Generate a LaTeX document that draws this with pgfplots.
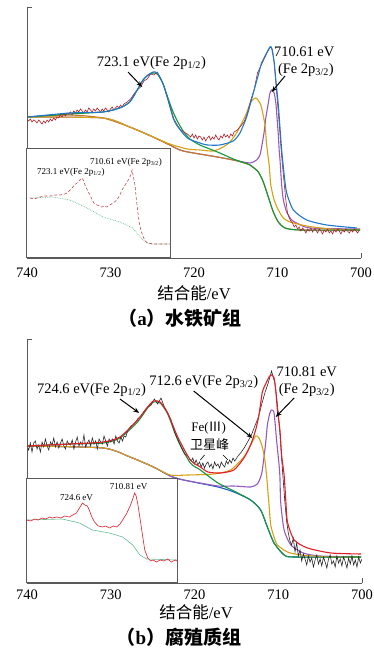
\documentclass[border=0pt]{standalone}
\usepackage{fontspec}
\setmainfont{Liberation Serif}
\newfontfamily\cjk{Noto Sans CJK SC}
\usepackage{pgfplots}
\pgfplotsset{compat=1.18}
\usetikzlibrary{arrows.meta}
\definecolor{cblue}{RGB}{30,120,200}
\definecolor{cbblue}{RGB}{30,90,200}
\definecolor{cred}{RGB}{180,30,40}
\definecolor{cbred}{RGB}{225,30,40}
\definecolor{cgreen}{RGB}{20,150,60}
\definecolor{cyellow}{RGB}{215,160,20}
\definecolor{cpurple}{RGB}{150,90,190}
\definecolor{cbrown}{RGB}{190,120,40}
\definecolor{cmint}{RGB}{100,190,150}
\definecolor{cblack}{RGB}{40,40,40}
\definecolor{axgray}{RGB}{90,90,90}
\pgfplotsset{
  mainax/.style={scale only axis, xmin=700, xmax=740, x dir=reverse, ymin=0,
    axis line style={draw=none}, major tick length=0pt, ytick=\empty,
    xtick={700,710,720,730,740}, /pgf/number format/assume math mode=true,
    xticklabel style={anchor=center, font=\fontsize{14.5}{15}\selectfont}},
  insetax/.style={scale only axis, xmin=700, xmax=740, x dir=reverse, ymin=0,
    ticks=none, axis line style={line width=1pt, axgray},
    axis background/.style={fill=white}},
  fit/.style={smooth, tension=0.4, line width=1.1pt, no markers},
  raw/.style={line width=0.6pt, no markers},
}
\tikzset{
  ann/.style={font=\fontsize{14.5}{15}\selectfont, inner sep=0pt},
  arr/.style={-{Stealth[length=6pt,width=4.5pt]}, line width=1pt, black},
}
\begin{document}
\begin{tikzpicture}[x=1pt,y=1pt]
\useasboundingbox (0,0) rectangle (374,650);
%%%%%%%%%%%%%%%%%%%%%%%% panel (a)
\begin{axis}[mainax, name=A, at={(27pt,392pt)}, anchor=south west, width=334pt, height=251pt, ymax=251,
  xticklabel style={yshift=-15pt}]
% 2p3/2
\addplot[fit, cpurple] coordinates {(739.9,141)(730.9,140)(727.7,131)(724.9,121)(722.9,113)(721.3,107)(717.2,101)(715.3,98)(713.3,95)(712.5,98)(712.1,103)(711.9,111)(711.6,126)(711.4,140)(711.1,155)(710.9,165)(710.7,168)(710.4,165)(710.2,155)(710.1,145)(709.9,123)(709.8,108)(709.7,98)(709.5,73)(709.3,58)(708.9,46)(708.3,38)(707.7,35)(706.1,30)(700.1,29)};
% background
\addplot[fit, cbrown] coordinates {(739.9,141)(734.9,143)(730.9,140)(727.7,131)(724.9,121)(722.9,113)(721.3,107)(717.2,101)(715.3,98)(713.3,93)(712.3,86)(711.7,76)(711.1,61)(710.5,46)(709.9,36)(709.1,30)(707.3,28)(700.1,28)};
% satellite
\addplot[fit, cyellow] coordinates {(739.9,141)(730.9,140)(727.7,131)(724.9,121)(722.9,114)(720.8,109)(719.3,108)(717.7,107)(716.5,111)(715.7,116)(714.9,125)(714.1,138)(713.7,145)(713.2,156)(712.6,160)(712.1,155)(711.9,150)(711.5,133)(711.3,113)(711.0,93)(710.8,73)(710.4,58)(709.9,48)(709.3,40)(708.5,36)(706.5,32)(703.7,29)(700.1,28)};
% 2p1/2
\addplot[fit, cgreen] coordinates {(739.9,141)(734.9,144)(730.9,146)(728.9,150)(727.7,156)(726.8,168)(726.1,178)(725.5,183)(724.9,185)(724.4,184)(723.8,176)(723.2,162)(722.6,148)(722.0,137)(721.3,127)(720.5,119)(719.3,113)(718.1,109)(716.9,105)(715.3,99)(713.9,95)(713.3,93)(712.3,86)(711.7,76)(711.1,61)(710.5,46)(709.9,36)(709.1,30)(707.3,28)(700.1,28)};
% raw data
\addplot[raw, cred] coordinates {(740.0,139)(739.8,137)(739.6,139)(739.4,136)(739.2,138)(739.0,137)(738.8,135)(738.6,138)(738.4,136)(738.2,134)(738.0,137)(737.8,135)(737.6,138)(737.4,136)(737.2,139)(737.0,137)(736.8,140)(736.6,138)(736.4,141)(736.2,140)(736.0,143)(735.8,141)(735.6,144)(735.4,142)(735.2,145)(735.0,144)(734.8,146)(734.6,143)(734.4,147)(734.2,145)(734.0,148)(733.8,146)(733.6,149)(733.4,147)(733.2,145)(733.0,148)(732.8,146)(732.6,150)(732.4,148)(732.2,146)(732.0,149)(731.8,147)(731.6,150)(731.4,148)(731.2,146)(731.0,149)(730.8,147)(730.6,150)(730.4,148)(730.2,146)(730.0,149)(729.8,151)(729.6,148)(729.4,150)(729.2,152)(729.0,150)(728.8,153)(728.6,151)(728.4,154)(728.2,155)(728.0,156)(727.6,159)(727.2,164)(726.8,168)(726.4,171)(726.0,177)(725.6,179)(725.2,184)(724.8,183)(724.4,186)(724.0,180)(723.6,172)(723.2,160)(722.8,150)(722.4,139)(722.0,133)(721.6,128)(721.2,126)(720.8,124)(720.4,121)(720.2,124)(720.0,120)(719.8,123)(719.6,119)(719.4,122)(719.2,121)(719.0,118)(718.8,121)(718.6,117)(718.4,120)(718.2,122)(718.0,118)(717.8,121)(717.6,119)(717.4,123)(717.2,120)(717.0,118)(716.8,122)(716.6,120)(716.4,124)(716.2,121)(716.0,123)(715.8,120)(715.6,124)(715.4,122)(715.2,126)(714.8,128)(714.4,132)(714.0,136)(713.6,145)(713.2,158)(712.8,168)(712.4,185)(712.0,192)(711.6,199)(711.2,206)(711.0,209)(710.8,211)(710.6,208)(710.4,195)(710.2,176)(710.0,155)(709.8,135)(709.6,112)(709.4,92)(709.2,75)(709.0,58)(708.8,45)(708.6,40)(708.4,37)(708.2,35)(708.0,31)(707.8,33)(707.6,29)(707.4,31)(707.2,27)(707.0,30)(706.8,28)(706.6,25)(706.4,29)(706.2,27)(706.0,30)(705.8,26)(705.6,29)(705.4,28)(705.2,25)(705.0,29)(704.8,27)(704.6,24)(704.4,28)(704.2,26)(704.0,29)(703.8,25)(703.6,27)(703.4,24)(703.2,28)(703.0,26)(702.8,29)(702.6,27)(702.4,24)(702.2,28)(702.0,26)(701.8,29)(701.6,27)(701.4,25)(701.2,28)(701.0,26)(700.8,29)(700.6,27)(700.4,25)(700.2,28)};
% envelope
\addplot[fit, cblue] coordinates {(739.9,141)(734.9,145)(730.9,146)(728.9,150)(727.7,156)(726.8,168)(726.1,178)(725.5,183)(724.9,186)(724.4,185)(723.7,174)(723.2,161)(722.5,140)(722.0,132)(720.8,120)(719.3,115)(718.4,113)(716.9,113)(715.3,117)(714.5,125)(713.7,141)(712.9,165)(712.3,183)(711.9,195)(711.3,205)(710.9,211)(710.7,210)(710.4,196)(710.2,178)(709.9,153)(709.7,130)(709.5,108)(709.2,83)(708.9,65)(708.1,48)(706.5,38)(704.1,33)(700.5,30)};
\node[ann] at (axis cs:725.1,195) {723.1 eV(Fe 2p\textsubscript{1/2})};
\draw[arr] (axis cs:727.9,186) -- (axis cs:726.2,171);
\node[ann] at (axis cs:706.8,206) {710.61 eV};
\node[ann] at (axis cs:706.6,188) {(Fe 2p\textsubscript{3/2})};
\draw[arr] (axis cs:709.1,182) -- (axis cs:710.7,166);
\end{axis}
\draw[line width=0.9pt, axgray] (A.north west) -- (A.south west) -- (A.south east);
\draw[line width=0.9pt, axgray] (A.north west) -- ++(5,0);
\draw[line width=0.9pt, axgray] (A.south east) -- ++(0,5);
\begin{axis}[insetax, at={(27pt,392pt)}, anchor=south west, width=144pt, height=109pt, ymax=109]
\addplot[line width=0.7pt, cmint, densely dotted] coordinates {(739.2,60)(732.8,61)(728.1,58)(723.3,50)(718.9,41)(714.2,36)(710.6,30)(708.6,21)(706.7,15)(705.0,14)(700.3,14)};
\addplot[line width=0.6pt, cred!80, densely dashed] coordinates {(739.2,60)(738.0,59)(736.4,61)(735.0,62)(733.5,62)(732.0,63)(730.8,63)(729.5,64)(728.9,65)(728.0,68)(727.5,70)(726.8,73)(726.1,75)(725.3,78)(724.7,80)(724.2,77)(723.9,73)(723.1,67)(722.5,63)(721.9,58)(721.4,55)(720.6,53)(719.9,52)(719.2,51)(718.5,52)(717.8,51)(717.0,53)(716.1,55)(715.0,58)(714.2,63)(713.6,68)(713.1,71)(712.2,76)(711.4,81)(710.8,88)(710.4,80)(710.0,73)(709.6,58)(709.2,46)(708.8,35)(708.3,27)(707.8,22)(707.2,17)(706.4,15)(705.0,14)(703.1,14)(700.3,14)};
\node[font=\fontsize{9}{9}\selectfont, inner sep=0pt] at (axis cs:712.5,96) {710.61 eV(Fe 2p\textsubscript{3/2})};
\node[font=\fontsize{9}{9}\selectfont, inner sep=0pt] at (axis cs:727.8,86) {723.1 eV(Fe 2p\textsubscript{1/2})};
\end{axis}
\node[font=\fontsize{16.5}{17}\selectfont] at (194,357) {{\cjk 结合能}/eV};
\node[font=\fontsize{19}{19}\selectfont\bfseries] at (180,332) {{\cjk （}a{\cjk ）水铁矿组}};
%%%%%%%%%%%%%%%%%%%%%%%% panel (b)
\begin{axis}[mainax, name=B, at={(27pt,67pt)}, anchor=south west, width=335pt, height=244pt, ymax=244,
  xticklabel style={yshift=-12pt}]
% background
\addplot[fit, cbblue] coordinates {(739.9,137)(730.9,135)(727.7,126)(724.9,116)(722.9,107)(721.3,103)(717.2,96)(715.3,91)(713.3,83)(712.1,73)(711.3,56)(710.5,40)(709.3,28)(708.1,26)(700.1,26)};
% 2p3/2
\addplot[fit, cpurple] coordinates {(739.9,137)(730.9,135)(727.7,126)(724.9,116)(722.9,107)(721.3,103)(717.2,97)(715.3,97)(713.3,96)(712.5,99)(712.1,106)(711.9,113)(711.5,140)(711.3,158)(711.0,170)(710.8,173)(710.5,170)(710.2,143)(709.9,118)(709.8,106)(709.7,80)(709.3,53)(708.5,38)(707.0,30)(705.0,27)(700.1,26)};
% satellite
\addplot[fit, cyellow] coordinates {(739.9,137)(730.9,135)(727.7,126)(724.9,116)(722.9,108)(720.8,108)(717.7,109)(715.7,113)(714.1,126)(713.3,138)(712.7,147)(712.3,145)(711.9,136)(711.6,123)(711.4,108)(711.1,78)(710.9,58)(710.5,46)(710.1,38)(708.9,31)(707.3,28)(703.7,26)(700.1,26)};
% 2p1/2
\addplot[fit, cgreen] coordinates {(739.9,137)(734.9,139)(730.9,140)(728.9,145)(726.8,161)(725.6,175)(724.9,181)(724.1,180)(723.2,169)(722.0,143)(720.5,120)(719.3,113)(717.2,100)(715.3,92)(713.3,83)(712.1,73)(711.3,56)(710.5,40)(709.3,28)(708.1,26)(700.1,26)};
% raw data
\addplot[raw, cblack] coordinates {(740.0,137)(739.8,133)(739.6,140)(739.4,131)(739.2,140)(739.0,142)(738.8,134)(738.6,138)(738.4,131)(738.2,141)(738.0,136)(737.8,144)(737.6,137)(737.4,133)(737.2,141)(737.0,138)(736.8,145)(736.6,136)(736.4,141)(736.2,135)(736.0,140)(735.8,144)(735.6,137)(735.4,134)(735.2,142)(735.0,139)(734.8,138)(734.6,143)(734.4,134)(734.2,141)(734.0,146)(733.8,137)(733.6,141)(733.4,138)(733.2,148)(733.0,136)(732.8,140)(732.6,143)(732.4,137)(732.2,145)(732.0,139)(731.8,142)(731.6,134)(731.4,144)(731.2,141)(731.0,139)(730.8,147)(730.6,142)(730.4,137)(730.2,144)(730.0,141)(729.8,144)(729.6,139)(729.4,147)(729.2,142)(729.0,140)(728.8,146)(728.6,142)(728.4,147)(728.2,146)(728.0,152)(727.6,157)(727.2,159)(726.8,164)(726.4,167)(726.0,172)(725.6,176)(725.2,178)(724.8,184)(724.4,179)(724.0,185)(723.6,176)(723.2,170)(722.8,163)(722.4,151)(722.0,144)(721.6,136)(721.2,129)(720.8,127)(720.4,122)(720.2,125)(720.0,119)(719.8,123)(719.6,118)(719.4,121)(719.2,116)(719.0,120)(718.8,115)(718.6,119)(718.4,121)(718.2,116)(718.0,119)(717.8,114)(717.6,121)(717.4,117)(717.2,119)(717.0,115)(716.8,121)(716.6,118)(716.4,116)(716.2,122)(716.0,119)(715.8,123)(715.6,120)(715.4,125)(715.2,122)(714.8,127)(714.4,131)(714.0,136)(713.6,142)(713.2,148)(712.8,157)(712.4,165)(712.0,178)(711.6,190)(711.2,200)(710.8,212)(710.6,206)(710.4,200)(710.2,186)(710.0,170)(709.8,150)(709.6,125)(709.4,102)(709.2,80)(709.0,62)(708.8,50)(708.6,42)(708.4,38)(708.2,45)(708.0,31)(707.8,40)(707.6,27)(707.4,33)(707.2,22)(707.0,29)(706.8,24)(706.6,18)(706.4,27)(706.2,21)(706.0,25)(705.8,16)(705.6,23)(705.4,28)(705.2,19)(705.0,24)(704.8,17)(704.6,26)(704.4,21)(704.2,15)(704.0,24)(703.8,28)(703.6,19)(703.4,22)(703.2,16)(703.0,27)(702.8,20)(702.6,24)(702.4,17)(702.2,26)(702.0,21)(701.8,15)(701.6,25)(701.4,19)(701.2,27)(701.0,18)(700.8,23)(700.6,16)(700.4,26)(700.2,20)(700.0,24)};
% envelope
\addplot[fit, cbred] coordinates {(739.9,137)(734.9,139)(730.9,141)(728.9,146)(726.8,163)(725.6,176)(724.9,182)(724.1,181)(723.2,170)(722.0,146)(720.5,123)(719.3,116)(718.4,111)(716.9,110)(715.3,113)(714.1,125)(713.3,138)(712.7,153)(712.3,168)(711.9,191)(711.5,199)(711.1,206)(710.8,208)(710.5,205)(710.3,193)(710.1,173)(709.8,153)(709.6,128)(709.3,108)(709.1,83)(708.9,61)(708.1,43)(706.5,35)(703.7,30)(700.1,29)};
\node[ann] at (axis cs:732.3,193) {724.6 eV(Fe 2p\textsubscript{1/2})};
\draw[arr] (axis cs:728.9,184) -- (axis cs:726.6,170);
\node[ann] at (axis cs:718.9,201) {712.6 eV(Fe 2p\textsubscript{3/2})};
\draw[arr] (axis cs:720.1,192) -- (axis cs:713.1,145);
\node[ann] at (axis cs:706.6,211) {710.81 eV};
\node[ann] at (axis cs:706.6,193) {(Fe 2p\textsubscript{3/2})};
\draw[arr] (axis cs:708.1,185) -- (axis cs:710.3,166);
\node[font=\fontsize{13}{13}\selectfont, inner sep=0pt] at (axis cs:718.3,155) {Fe({\cjk Ⅲ})};
\node[font=\fontsize{13}{13}\selectfont, inner sep=0pt] at (axis cs:718.2,138) {\cjk 卫星峰};
\draw[line width=0.6pt] (axis cs:719.3,123) -- (axis cs:718.8,128);
\draw[line width=0.6pt] (axis cs:716.6,128) -- (axis cs:716.0,123);
\end{axis}
\draw[line width=0.9pt, axgray] (B.north west) -- (B.south west) -- (B.south east);
\draw[line width=0.9pt, axgray] (B.north west) -- ++(5,0);
\draw[line width=0.9pt, axgray] (B.south east) -- ++(0,5);
\begin{axis}[insetax, at={(27pt,67pt)}, anchor=south west, width=150pt, height=104pt, ymax=104]
\addplot[line width=0.6pt, cmint] coordinates {(740,63)(730.6,64)(726.0,60)(722.6,53)(718.0,50)(714.5,46)(711.8,38)(709.9,28)(708.1,24)(700,23)};
\addplot[line width=0.6pt, cbred] coordinates {(740.0,63)(739.0,62)(738.0,64)(737.0,63)(736.0,65)(735.0,64)(734.0,66)(733.3,65)(732.0,66)(731.0,65)(730.0,67)(728.7,66)(727.8,68)(726.8,70)(726.0,75)(725.2,80)(724.6,78)(723.9,77)(723.4,73)(722.7,66)(722.0,61)(721.0,57)(719.9,56)(719.0,57)(718.0,55)(717.0,57)(716.1,56)(715.2,59)(714.5,63)(713.5,69)(712.6,76)(711.9,83)(711.3,90)(710.9,87)(710.5,80)(710.0,68)(709.4,53)(708.6,33)(707.8,25)(707.0,22)(706.4,23)(705.5,21)(704.5,23)(703.5,22)(702.5,24)(701.5,21)(700.5,23)(700.0,22)};
\node[font=\fontsize{9}{9}\selectfont, inner sep=0pt] at (axis cs:726.8,85) {724.6 eV};
\node[font=\fontsize{9}{9}\selectfont, inner sep=0pt] at (axis cs:712.9,96) {710.81 eV};
\end{axis}
\node[font=\fontsize{16.5}{17}\selectfont] at (196,38) {{\cjk 结合能}/eV};
\node[font=\fontsize{19}{19}\selectfont\bfseries] at (179,13) {{\cjk （}b{\cjk ）腐殖质组}};
\end{tikzpicture}
\end{document}
